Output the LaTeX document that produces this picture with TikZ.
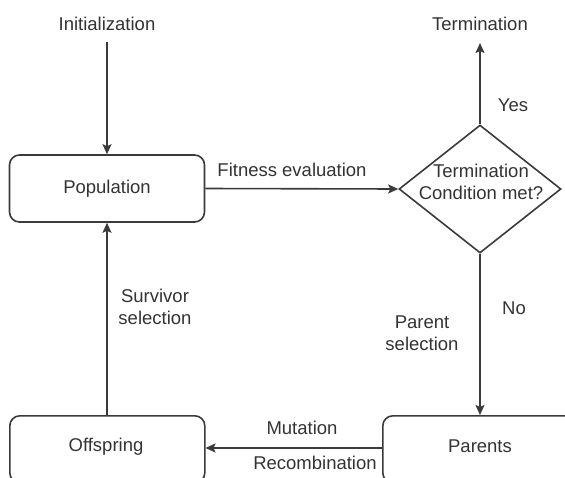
\documentclass[tikz,border=0pt]{standalone}
\usepackage{fontspec}
\setmainfont{Liberation Sans}
\usetikzlibrary{shapes.geometric,arrows.meta}
\definecolor{ln}{HTML}{3A3A3A}
\definecolor{tx}{HTML}{333333}
\begin{document}
\begin{tikzpicture}[x=1pt,y=-1pt,
  every node/.style={text=tx,font=\fontsize{18.5}{22}\selectfont},
  box/.style={draw=ln,line width=1.6pt,rounded corners=10pt,minimum width=195pt,minimum height=67pt,inner sep=0pt},
  lbl/.style={align=center,inner sep=1pt},
  arr/.style={draw=ln,line width=1.6pt,-{Stealth[length=10pt,width=9pt,inset=2pt]}}]
\useasboundingbox (0,0) rectangle (565,477);
\clip (0,0) rectangle (565,477);
\node[box] (pop) at (107,188.5) {Population};
\node[lbl] (init) at (107,24) {Initialization};
\node[lbl] (term) at (480,24) {Termination};
\node[draw=ln,line width=1.6pt,diamond,minimum width=162pt,minimum height=128pt,inner sep=0pt] (cond) at (480,189) {};
\node[lbl] (condtxt) at (481,182) {Termination\\Condition met?};
\node[box,anchor=north west] (off) at (9,415) {};
\node (offtxt) at (106,447) {Offspring};
\node[box,anchor=north west] (par) at (382,415) {};
\node (partxt) at (480,446) {Parents};
\coordinate (initend) at (107,42);
\coordinate (termend) at (480,43);
\coordinate (parin) at (480,415);
\coordinate (offin) at (205.5,448);
\coordinate (parout) at (382,448);
\coordinate (offout) at (107,415);
\draw[arr] (initend) -- (pop.north);
\draw[arr] (pop.east) -- (cond.west);
\node[lbl] (fit) at (292,170) {Fitness evaluation};
\draw[arr] (cond.north) -- (termend);
\node[lbl] (yes) at (513,105) {Yes};
\draw[arr] (cond.south) -- (parin);
\node[lbl] (no) at (514,308) {No};
\node[lbl] (psel) at (422,333) {Parent\\selection};
\draw[arr] (parout) -- (offin);
\node[lbl] (mut) at (302,428) {Mutation};
\node[lbl] (rec) at (315,463) {Recombination};
\draw[arr] (offout) -- (pop.south);
\node[lbl] (ssel) at (155,307) {Survivor\\selection};
\end{tikzpicture}
\end{document}
